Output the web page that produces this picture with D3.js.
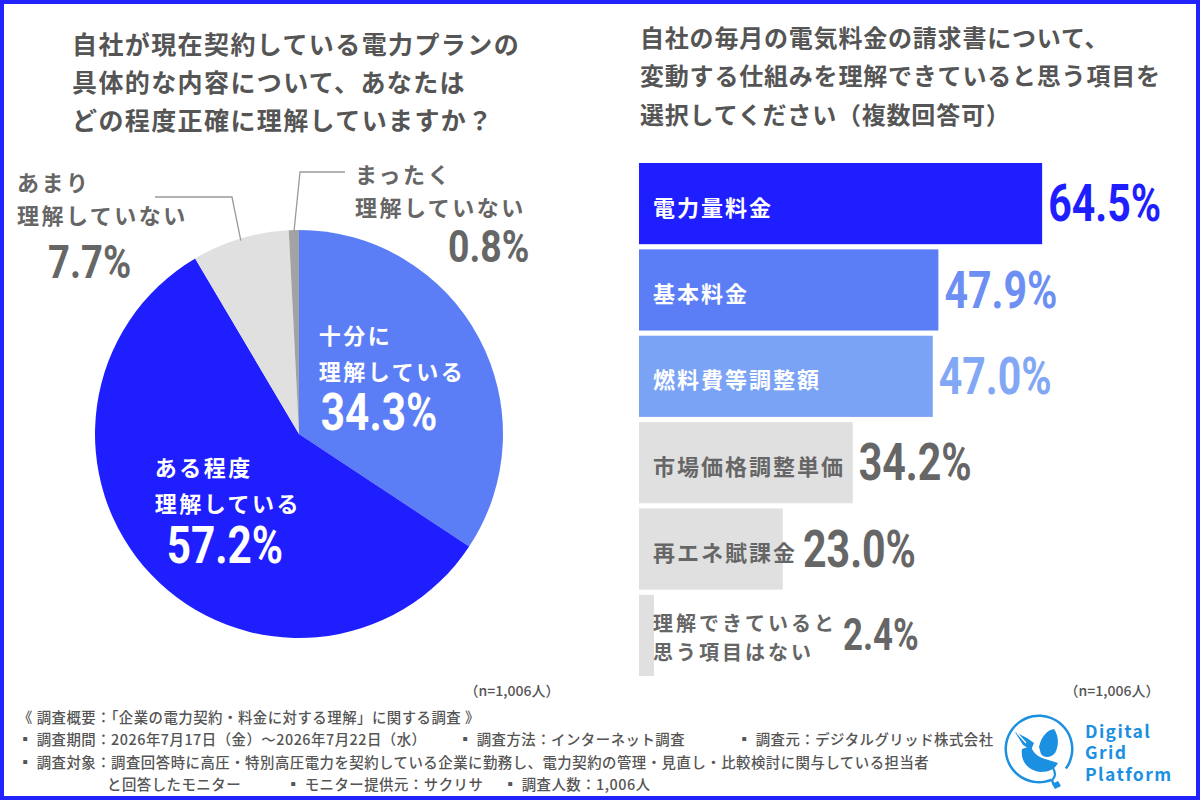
<!DOCTYPE html>
<html>
<head>
<meta charset="utf-8">
<script src="https://cdn.jsdelivr.net/npm/d3@7"></script>
<style>
  body { margin: 0; background: #fff; }
  svg { display: block; }
  text { font-family: "Noto Sans CJK JP", "Noto Sans", sans-serif; }
  .num { font-family: Roboto, "Noto Sans", sans-serif; font-weight: 700; }
</style>
</head>
<body>
<svg id="chart" width="1200" height="800"></svg>
<script>
// left: pie
const pieTitle = ["自社が現在契約している電力プランの", "具体的な内容について、あなたは", "どの程度正確に理解していますか？"];
const pieLabels = [["十分に", "理解している"], ["ある程度", "理解している"], ["あまり", "理解していない"], ["まったく", "理解していない"]];
const pieValues = [34.3, 57.2, 7.7, 0.8];
const pieColors = ["#5b7ef6", "#1e1eff", "#e0e0e0", "#a3a3a3"];

// right: bars
const barTitle = ["自社の毎月の電気料金の請求書について、", "変動する仕組みを理解できていると思う項目を", "選択してください（複数回答可）"];
const barCategories = ["電力量料金", "基本料金", "燃料費等調整額", "市場価格調整単価", "再エネ賦課金", "理解できていると|思う項目はない"];
const barValues = [64.5, 47.9, 47.0, 34.2, 23.0, 2.4];
const barColors = ["#1e1eff", "#5b7ef6", "#7ba3f5", "#e0e0e0", "#e0e0e0", "#e0e0e0"];
const valueColors = ["#1e1eff", "#6d8ff3", "#82a8f5", "#666666", "#666666", "#666666"];
const labelColors = ["#ffffff", "#ffffff", "#ffffff", "#666666", "#666666", "#666666"];

const sampleNote = "（n=1,006人）";
const footerLines = [
  [[18, "《 調査概要：「企業の電力契約・料金に対する理解」に関する調査 》"]],
  [[18, "▪ 調査期間：2026年7月17日（金）～2026年7月22日（水）"], [458, "▪ 調査方法：インターネット調査"], [737, "▪ 調査元：デジタルグリッド株式会社"]],
  [[18, "▪ 調査対象：調査回答時に高圧・特別高圧電力を契約している企業に勤務し、電力契約の管理・見直し・比較検討に関与している担当者"]],
  [[107, "と回答したモニター"], [286, "▪ モニター提供元：サクリサ"], [503, "▪ 調査人数：1,006人"]]
];
const logoWords = ["Digital", "Grid", "Platform"];

const svg = d3.select("#chart");
const W = 1200, H = 800;

// frame
svg.append("rect").attr("x", 2).attr("y", 2).attr("width", W - 4).attr("height", H - 4)
  .attr("fill", "#fff").attr("stroke", "#2222ff").attr("stroke-width", 4);

function title(lines, x, y0, step, size, ls) {
  svg.append("g").selectAll("text").data(lines).join("text")
    .attr("x", x).attr("y", (d, i) => y0 + i * step)
    .attr("dominant-baseline", "central")
    .attr("font-size", size).attr("font-weight", 700)
    .attr("letter-spacing", ls).attr("fill", "#555")
    .text(d => d);
}
title(pieTitle, 72, 43, 38, 25, 1.4);
title(barTitle, 640, 36, 38.5, 24, 0.8);

// number text, squeezed horizontally like the condensed face of the original
function num(g, x, y, size, color, txt, sx) {
  g.append("text").attr("class", "num")
    .attr("transform", `translate(${x},${y}) scale(${sx || 0.83},1)`)
    .attr("dominant-baseline", "central")
    .attr("font-size", size).attr("fill", color).text(txt);
}

function twoLines(x, y, gap, color, lines) {
  const t = svg.append("text").attr("font-size", 22).attr("font-weight", 700)
    .attr("letter-spacing", 2.5).attr("fill", color);
  lines.forEach((l, k) => t.append("tspan").attr("x", x).attr("y", y + k * gap)
    .attr("dominant-baseline", "central").text(l));
}

// ---------- pie ----------
const cx = 299, cy = 434, R = 204;
const pie = d3.pie().sort(null).value(d => d);
const arcs = pie(pieValues);
const arc = d3.arc().innerRadius(0).outerRadius(R);
const pg = svg.append("g").attr("transform", `translate(${cx},${cy})`);
pg.selectAll("path").data(arcs).join("path")
  .attr("d", arc).attr("fill", (d, i) => pieColors[i]);

// inside labels, placed from each slice's centroid
const inner = d3.arc().innerRadius(R * 0.55).outerRadius(R * 0.55);
const inOff = [{ dx: -79, dy: -47, nx: 2 }, { dx: -63, dy: -45, nx: 12 }];
[0, 1].forEach(i => {
  const c = inner.centroid(arcs[i]);
  const x0 = cx + c[0] + inOff[i].dx;
  const y0 = cy + c[1] + inOff[i].dy;
  twoLines(x0, y0, 36, "#fff", pieLabels[i]);
  num(svg, x0 + inOff[i].nx, y0 + 79, 51, "#fff", pieValues[i].toFixed(1) + "%");
});

// outside labels with leader lines
const edge = d3.arc().innerRadius(R - 2).outerRadius(R - 2);
const outside = [
  { i: 2, elbow: [232, 197], end: [155, 197], tx: 17, ty: 181, nx: 48, ny: 262, size: 46 },
  { i: 3, elbow: [300, 172], end: [345, 172], tx: 355, ty: 173, nx: 448, ny: 247, size: 45 }
];
outside.forEach(o => {
  const e = edge.centroid(arcs[o.i]);
  svg.append("path")
    .attr("d", d3.line()([[cx + e[0], cy + e[1]], o.elbow, o.end]))
    .attr("fill", "none").attr("stroke", "#9a9a9a").attr("stroke-width", 1.3);
  twoLines(o.tx, o.ty, 33, "#666", pieLabels[o.i]);
  num(svg, o.nx, o.ny, o.size, "#666", pieValues[o.i].toFixed(1) + "%");
});

// ---------- bars ----------
const x = d3.scaleLinear().domain([0, 100]).range([639, 639 + 625]);
const y = d3.scaleBand().domain(barCategories).range([163, 676]).paddingInner(0.06);
const bg = svg.append("g");
bg.selectAll("rect").data(barValues).join("rect")
  .attr("x", x(0)).attr("y", (d, i) => y(barCategories[i]))
  .attr("width", d => x(d) - x(0)).attr("height", y.bandwidth())
  .attr("fill", (d, i) => barColors[i]);

barCategories.forEach((c, i) => {
  const lines = c.split("|");
  const yc = y(c) + y.bandwidth() / 2;
  const two = lines.length > 1;
  const t = bg.append("text").attr("font-size", two ? 20 : 22).attr("font-weight", 700)
    .attr("letter-spacing", two ? 3 : 2).attr("fill", labelColors[i]);
  lines.forEach((l, k) => {
    t.append("tspan").attr("x", 653)
      .attr("y", yc + 2 + (k - (lines.length - 1) / 2) * 29)
      .attr("dominant-baseline", "central").text(l);
  });
  const labelEnd = 653 + t.node().getBBox().width;
  const vx = Math.max(x(barValues[i]), labelEnd) + 6;
  num(bg, vx, yc, two ? 44 : 52, valueColors[i], barValues[i].toFixed(1) + "%", 0.79);
});

// sample notes
[[512, 690], [1112, 690]].forEach(p => {
  svg.append("text").attr("x", p[0]).attr("y", p[1]).attr("text-anchor", "middle")
    .attr("dominant-baseline", "central").attr("font-size", 14).attr("font-weight", 500)
    .attr("fill", "#555").text(sampleNote);
});

// footer
footerLines.forEach((line, r) => {
  line.forEach(seg => {
    svg.append("text").attr("x", seg[0]).attr("y", 716 + r * 22.5)
      .attr("dominant-baseline", "central").attr("font-size", 14.4).attr("font-weight", 500)
      .attr("letter-spacing", 0.5).attr("fill", "#555").text(seg[1]);
  });
});

// logo: ring with a plug cord and a bird
const blue = "#1b8fe0";
const lg = svg.append("g").attr("transform", "translate(1039,749)");
lg.append("path")
  .attr("d", d3.arc().innerRadius(32).outerRadius(34.5).startAngle(2.75).endAngle(2.75 + 2 * Math.PI - 0.55)())
  .attr("fill", blue);
lg.append("path").attr("d", "M14,19 Q18,26 14,30 Q12,33 16,36").attr("fill", "none").attr("stroke", blue).attr("stroke-width", 2.2);
lg.append("path").attr("d", "M13,35 l6,-3 l3,5 l-6,3 Z").attr("fill", blue);
// body
lg.append("path")
  .attr("d", "M-17,0 C-19,13 -10,22 2,23 C10,23 16,20 19,14 L3,9 C-2,7 -7,2 -8,-3 Z")
  .attr("fill", blue);
// wing
lg.append("path")
  .attr("d", "M0,-2 C2,-12 8,-19 15,-20 C20,-13 20,-3 16,4 C12,9 5,9 2,5 Z")
  .attr("fill", blue);
// head and tail
lg.append("path").attr("d", "M-24,-17 L-12,-11 L-5,-6 L-8,1 L-16,-4 Z").attr("fill", blue);
lg.append("path").attr("d", "M-22,-16 L-13,-6").attr("stroke", "#fff").attr("stroke-width", 1.2);

const lt = svg.append("text").attr("font-family", "Inter, Roboto, sans-serif")
  .attr("font-weight", 700).attr("font-size", 17.5).attr("letter-spacing", 1.4).attr("fill", blue);
logoWords.forEach((w, i) => lt.append("tspan").attr("x", 1085).attr("y", 730 + i * 21.5)
  .attr("dominant-baseline", "central").text(w));
</script>
</body>
</html>
